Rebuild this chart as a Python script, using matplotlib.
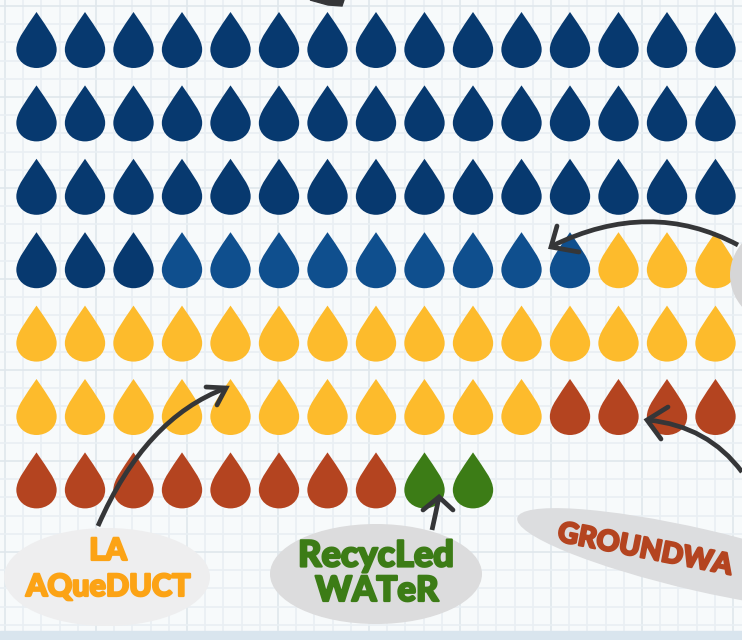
import numpy as np
import matplotlib
matplotlib.use("Agg")
import matplotlib.pyplot as plt
import matplotlib.patheffects as pe
from matplotlib.path import Path
from matplotlib.patches import PathPatch, Ellipse
from matplotlib.transforms import Affine2D

sources = ["Colorado River", "Other imported", "LA Aqueduct", "Groundwater", "Recycled water"]
counts = [48, 9, 29, 12, 2]
colors = ["#07396f", "#0f4f8e", "#fdbb2c", "#b44420", "#3c7c16"]
per_row = 15

W, H = 742, 640
fig = plt.figure(figsize=(W / 100, H / 100), dpi=100)
fig.patch.set_facecolor("#f7fafb")
ax = fig.add_axes([0, 0, 1, 1])
STEPX, STEPY, X0, Y0 = 48.5, 73.4, 36.5, 40.0
ax.set_xlim(-X0 / STEPX, (W - X0) / STEPX)
ax.set_ylim((H - Y0) / STEPY, -Y0 / STEPY)
ax.axis("off")

# pixel coordinates (origin top-left) for the decoration
px = Affine2D().scale(1, -1).translate(0, H)

# squared paper
for i, v in enumerate(np.arange(5, W, 18.2)):
    ax.plot([v, v], [0, H], color="#e9eff3" if i % 5 else "#e0e7ec", lw=1.2, transform=px, zorder=0)
for i, v in enumerate(np.arange(6, H, 18.2)):
    ax.plot([0, W], [v, v], color="#e9eff3" if i % 5 else "#e0e7ec", lw=1.2, transform=px, zorder=0)
ax.add_patch(plt.Rectangle((0, 631), W, 9, color="#d9e5ee", transform=px, zorder=1))

# water drop marker
drop = Path(
    [(0, 1), (0.40, 0.40), (0.72, 0.02), (0.72, -0.34), (0.72, -0.74), (0.38, -1), (0, -1),
     (-0.38, -1), (-0.72, -0.74), (-0.72, -0.34), (-0.72, 0.02), (-0.40, 0.40), (0, 1), (0, 1)],
    [Path.MOVETO, Path.CURVE4, Path.CURVE4, Path.CURVE4, Path.CURVE4, Path.CURVE4, Path.CURVE4,
     Path.CURVE4, Path.CURVE4, Path.CURVE4, Path.CURVE4, Path.CURVE4, Path.CURVE4, Path.CLOSEPOLY],
)
idx = np.arange(sum(counts))
point_colors = np.repeat(colors, counts)
ax.scatter(idx % per_row, idx // per_row, marker=drop, s=(56 * 0.72) ** 2,
           c=list(point_colors), linewidths=0, zorder=2, clip_on=True)

# bubbles
for (c, w, h, a, col) in [((107, 577), 206, 98, 0, "#eeeeef"), ((376, 574), 212, 100, 0, "#dcdcdd"),
                          ((700, 560), 375, 62, 13, "#dcdddf"), ((795, 275), 130, 110, 0, "#d6d6d7")]:
    ax.add_patch(Ellipse(c, w, h, angle=a, color=col, transform=px, zorder=3, lw=0))

# arrows
DARK = "#353638"
def curve(p0, c, p1):
    ax.add_patch(PathPatch(Path([p0, c, p1], [Path.MOVETO, Path.CURVE3, Path.CURVE3]), fc="none", ec=DARK,
                           lw=3.4, transform=px, zorder=4, capstyle="butt"))
def head(a, tip, b):
    ax.add_patch(PathPatch(Path([a, tip, b]), fc="none", ec=DARK, lw=3.4, transform=px, zorder=4,
                           capstyle="round", joinstyle="miter"))
curve((98, 526), (145, 418), (226, 388)); head((206, 387), (226, 388), (217, 405))
curve((432, 530), (436, 512), (439, 497)); head((423, 510), (439, 497), (453, 510))
curve((738, 245), (650, 198), (552, 246)); head((557, 226), (551, 247), (579, 252))
curve((742, 472), (708, 426), (648, 420)); head((668, 407), (647, 420), (661, 439))
ax.add_patch(plt.Polygon([(310, 0), (344, 0), (342, 6), (328, 5)], color=DARK, transform=px, zorder=4))

# labels
def label(x, y, s, col, size, rot=0, ha="center"):
    t = ax.text(x, y, s, color=col, fontsize=size, fontfamily="Lato", fontweight="black", ha=ha, va="center",
                rotation=rot, rotation_mode="anchor", transform=px, zorder=5)
    t.set_path_effects([pe.withStroke(linewidth=1.6, foreground=col)])
label(108, 551, "LA", "#fca315", 22)
label(108, 587, "AQueDUCT", "#fca315", 22)
label(376, 556, "RecycLed", "#3c7c16", 26)
label(377, 591, "WATeR", "#3c7c16", 25)
label(558, 533, "GROUNDWA", "#b44420", 20.5, rot=-11, ha="left")

fig.savefig("out.png", dpi=100, facecolor=fig.get_facecolor())
